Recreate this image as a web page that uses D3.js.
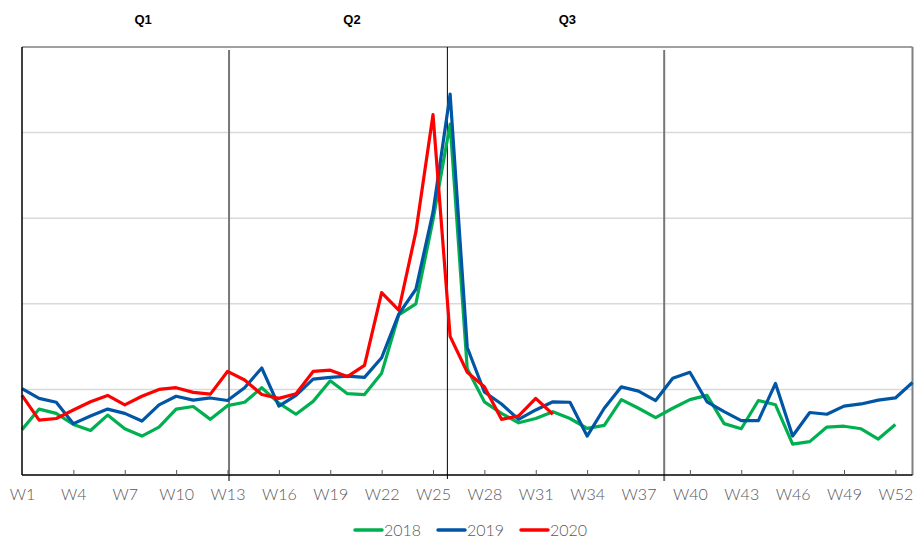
<!DOCTYPE html>
<html><head><meta charset="utf-8">
<script src="https://cdn.jsdelivr.net/npm/d3@7"></script>
<style>body{margin:0;background:#fff}svg{display:block}</style>
</head><body>
<svg id="c" width="918" height="545"></svg>
<script>
const weeks = d3.range(1, 54).map(i => "W" + i);
const tickWeeks = ["W1","W4","W7","W10","W13","W16","W19","W22","W25","W28","W31","W34","W37","W40","W43","W46","W49","W52"];
const yGrid = [1, 2, 3, 4];
const quarterLines = [13.09, 25.84, 38.5];
const quarterLabels = ["Q1", "Q2", "Q3"];
const quarterLabelPos = [8.07, 20.27, 32.85];
const seriesNames = ["2018", "2019", "2020"];
const seriesColors = ["#00B050", "#0055A5", "#FF0000"];
const v2018 = [0.53,0.77,0.72,0.59,0.52,0.70,0.54,0.455,0.56,0.77,0.80,0.65,0.81,0.85,1.02,0.84,0.71,0.86,1.10,0.95,0.94,1.19,1.87,2.00,2.98,4.10,1.24,0.855,0.72,0.61,0.66,0.74,0.66,0.545,0.58,0.88,0.78,0.67,0.78,0.88,0.93,0.60,0.54,0.87,0.82,0.36,0.39,0.56,0.57,0.54,0.42,0.59];
const v2019 = [1.01,0.895,0.85,0.60,0.69,0.77,0.72,0.63,0.82,0.92,0.875,0.90,0.87,1.02,1.25,0.805,0.93,1.12,1.14,1.155,1.14,1.37,1.88,2.17,3.07,4.45,1.49,0.97,0.83,0.65,0.76,0.855,0.85,0.455,0.78,1.03,0.98,0.87,1.13,1.20,0.855,0.74,0.635,0.635,1.07,0.455,0.73,0.71,0.805,0.83,0.875,0.90,1.08];
const v2020 = [0.93,0.64,0.66,0.76,0.855,0.93,0.82,0.92,1.00,1.02,0.965,0.945,1.21,1.11,0.94,0.895,0.95,1.21,1.225,1.15,1.28,2.13,1.925,2.84,4.21,1.62,1.20,1.03,0.65,0.69,0.895,0.71];
const seriesData = [v2018, v2019, v2020];

const svg = d3.select("#c");
const mLeft = 22, mRight = 912.5, mTop = 47, mBottom = 475;
const x = d3.scaleLinear().domain([1, 53]).range([mLeft, mRight]);
const y = d3.scaleLinear().domain([0, 5]).range([mBottom, mTop]);
const wn = w => +w.slice(1);
const tickFont = "Lato, 'Open Sans', sans-serif";

// gridlines
svg.append("g").selectAll("line").data(yGrid).join("line")
  .attr("x1", mLeft).attr("x2", mRight).attr("y1", d => y(d)).attr("y2", d => y(d))
  .attr("stroke", "#d9d9d9").attr("stroke-width", 1.5);

// top border & right border
svg.append("line").attr("x1", mLeft).attr("x2", mRight).attr("y1", y(5)).attr("y2", y(5))
  .attr("stroke", "#808080").attr("stroke-width", 1.5);
svg.append("line").attr("x1", mRight).attr("x2", mRight).attr("y1", y(5)).attr("y2", mBottom)
  .attr("stroke", "#808080").attr("stroke-width", 2);

// quarter lines
svg.append("g").selectAll("line").data(quarterLines).join("line")
  .attr("x1", d => x(d)).attr("x2", d => x(d))
  .attr("y1", (d, i) => i === 1 ? y(5) : y(5) + 3)
  .attr("y2", (d, i) => i === 1 ? mBottom + 4 : mBottom + 6)
  .attr("stroke", (d, i) => i === 1 ? "#000" : "#777")
  .attr("stroke-width", (d, i) => i === 1 ? 1 : 2);

// quarter labels
svg.append("g").selectAll("text").data(quarterLabels).join("text")
  .attr("x", (d, i) => x(quarterLabelPos[i])).attr("y", 24)
  .attr("text-anchor", "middle").attr("font-family", "Liberation Sans, Arial, sans-serif")
  .attr("font-weight", "bold").attr("font-size", 13).attr("fill", "#000").text(d => d);

// lines
const line = d3.line().x((d, i) => x(i + 1)).y(d => y(d));
svg.append("g").selectAll("path").data(seriesData).join("path")
  .attr("d", d => line(d)).attr("fill", "none")
  .attr("stroke", (d, i) => seriesColors[i]).attr("stroke-width", 3.2)
  .attr("stroke-linejoin", "round");

// axes
const xAxis = d3.axisBottom(x).tickValues(tickWeeks.map(wn)).tickSize(-5).tickFormat(d => "W" + d);
const gx = svg.append("g").attr("transform", `translate(0,${mBottom})`).call(xAxis);
gx.select(".domain").attr("stroke", "#000").attr("stroke-width", 1.5).attr("d", `M${mLeft},0H${mRight}`);
gx.selectAll(".tick line").attr("stroke", "#555");
gx.selectAll(".tick text").attr("y", 14).attr("dy", "0.71em")
  .attr("font-family", tickFont).attr("font-weight", 300).attr("font-size", 16).attr("fill", "#595959");
gx.selectAll(".tick").filter(d => d === 1).select("line").remove();

svg.append("line").attr("x1", mLeft).attr("x2", mLeft).attr("y1", y(5)).attr("y2", mBottom)
  .attr("stroke", "#000").attr("stroke-width", 1.5);

// legend
const lg = svg.append("g");
const legendX = [355, 438, 521];
seriesNames.forEach((n, i) => {
  lg.append("line").attr("x1", legendX[i]).attr("x2", legendX[i] + 27).attr("y1", 530).attr("y2", 530)
    .attr("stroke", seriesColors[i]).attr("stroke-width", 3.5).attr("stroke-linecap", "round");
  lg.append("text").attr("x", legendX[i] + 29).attr("y", 536)
    .attr("font-family", tickFont).attr("font-weight", 300).attr("font-size", 16).attr("fill", "#595959").text(n);
});
</script>
</body></html>
